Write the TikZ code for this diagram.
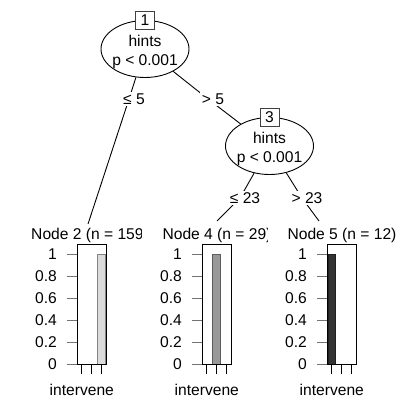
\documentclass[tikz,border=0pt]{standalone}
\usepackage{fontspec}
\setmainfont{Liberation Sans}
\usepackage{xcolor}
\usepackage{tikz}
\usetikzlibrary{positioning,shapes.geometric}
\pgfdeclarelayer{nodelayer}
\pgfdeclarelayer{edgelayer}
\pgfsetlayers{main,edgelayer,nodelayer}
\definecolor{barlight}{gray}{0.86}
\definecolor{barmid}{gray}{0.60}
\definecolor{bardark}{gray}{0.20}
\tikzstyle{split node}=[fill=white, draw=black, shape=ellipse, minimum width=88pt, minimum height=57pt, inner sep=0pt, line width=0.9pt]
\tikzstyle{split text}=[align=center, inner sep=0pt]
\tikzstyle{id box}=[fill=white, draw=black!75, minimum width=19pt, minimum height=18pt, inner sep=0pt, line width=0.9pt]
\tikzstyle{tree_edge}=[-, draw=black, line width=0.9pt]
\tikzstyle{edge label}=[fill=white, inner sep=1.5pt, xshift=5pt]
\tikzstyle{leaf title}=[inner sep=0pt]
\tikzstyle{leaf frame}=[draw=black, line width=0.9pt]
\tikzstyle{y tick}=[draw=black!55, line width=0.9pt]
\tikzstyle{x tick}=[draw=black, line width=0.9pt]
\tikzstyle{tick label}=[anchor=east, inner sep=0pt]

% bar panel: name, left edge, filled slot, fill colour
\newcommand{\leafpanel}[4]{%
  \foreach \v/\lab in {0/0, 1/0.2, 2/0.4, 3/0.6, 4/0.8, 5/1} {
    \draw[y tick] (#2-10, 364-22*\v) -- (#2, 364-22*\v);
    \node[tick label] (#1-y\v) at (#2-20, 364-22*\v) {\lab};
  }
  \foreach \s in {1,2,3}
    \draw[x tick] (#2+9.667*\s-4.83, 364) -- ++(0,10);
  \filldraw[fill=#4, draw=#4!60!black, line width=0.6pt] (#2+9.667*#3-8.58, 254) rectangle ++(7.5,110);
  \draw[leaf frame] (#2,244) rectangle ++(29,120);
  \node (#1-cat) at (#2+4.83, 390) {intervene};
}

\begin{document}
\begin{tikzpicture}[x=1pt, y=-1pt, every node/.style={font=\fontsize{15.6}{19}\selectfont}]
        \useasboundingbox (0,0) rectangle (414,412);
        \begin{pgfonlayer}{nodelayer}
            \node[style=split node] (n1) at (145,49) {};
            \node[style=split text] (n1-txt) at (145,51.5) {hints\\p < 0.001};
            \node[style=id box] (id1) at (n1.north) {1};
            \node[style=split node] (n3) at (269.5,146) {};
            \node[style=split text] (n3-txt) at (269.5,148.5) {hints\\p < 0.001};
            \node[style=id box] (id3) at (n3.north) {3};
            \begin{scope}
                \clip (0,222) rectangle (141,246);
                \node[style=leaf title] (t2) at (90,235) {Node 2 (n = 159)};
            \end{scope}
            \begin{scope}
                \clip (150,222) rectangle (267,246);
                \node[style=leaf title] (t4) at (217,235) {Node 4 (n = 29)};
            \end{scope}
            \node[style=leaf title] (t5) at (342,235) {Node 5 (n = 12)};
            \leafpanel{p2}{77}{3}{barlight}
            \leafpanel{p4}{202}{2}{barmid}
            \leafpanel{p5}{327}{1}{bardark}
        \end{pgfonlayer}
        \coordinate (k12) at (129,99);
        \coordinate (k13) at (208,99);
        \coordinate (k34) at (240,198);
        \coordinate (k35) at (302,198);
        \coordinate (leaf2) at (88,224);
        \coordinate (leaf4) at (217,221);
        \coordinate (leaf5) at (319,221);
        \begin{pgfonlayer}{edgelayer}
            \draw[style=tree_edge] (n1) -- (k12) node[edge label] {≤ 5} -- (leaf2);
            \draw[style=tree_edge] (n1) -- (k13) node[edge label] {> 5} -- (n3);
            \draw[style=tree_edge] (n3) -- (k34) node[edge label] {≤ 23} -- (leaf4);
            \draw[style=tree_edge] (n3) -- (k35) node[edge label] {> 23} -- (leaf5);
        \end{pgfonlayer}
    \end{tikzpicture}
\end{document}
